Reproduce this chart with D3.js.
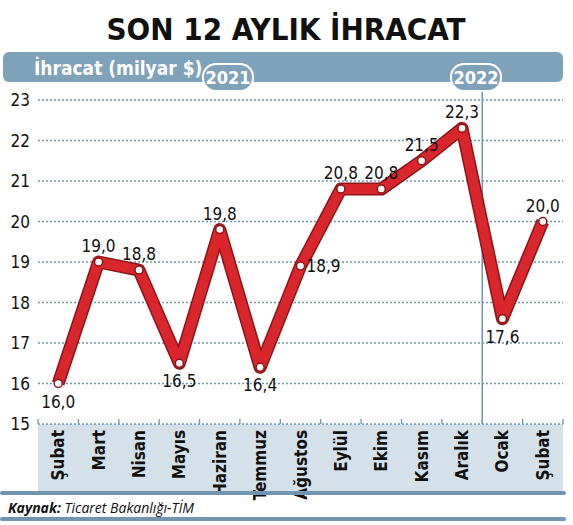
<!DOCTYPE html>
<html lang="tr">
<head>
<meta charset="UTF-8">
<script src="https://d3js.org/d3.v7.min.js"></script>
<style>
  body { margin: 0; background: #fff; }
  svg { display: block; }
  .cond { font-family: "Liberation Sans Narrow", "DejaVu Sans Condensed", sans-serif; }
</style>
</head>
<body>
<svg width="573" height="525"></svg>
<script>
  // chart data
  const months = ["Şubat", "Mart", "Nisan", "Mayıs", "Haziran", "Temmuz", "Ağustos", "Eylül", "Ekim", "Kasım", "Aralık", "Ocak", "Şubat"];
  const values = [16.0, 19.0, 18.8, 16.5, 19.8, 16.4, 18.9, 20.8, 20.8, 21.5, 22.3, 17.6, 20.0];
  const labelAbove = [false, true, true, false, true, false, false, true, true, true, true, false, true];
  const yTicks = [15, 16, 17, 18, 19, 20, 21, 22, 23];

  const svg = d3.select("svg");
  const plotLeft = 38, plotRight = 563, plotTop = 100, plotBottom = 424;

  const x = d3.scaleBand().domain(d3.range(months.length)).range([plotLeft, plotRight]);
  const y = d3.scaleLinear().domain([15, 23]).range([plotBottom, plotTop]);
  const cx = i => x(i) + x.bandwidth() / 2;

  // title
  svg.append("text").attr("class", "cond").attr("x", 286).attr("y", 40)
    .attr("text-anchor", "middle").attr("font-size", 31).attr("font-weight", "bold")
    .attr("fill", "#111").text("SON 12 AYLIK İHRACAT");

  // header bar
  svg.append("rect").attr("x", 3).attr("y", 52).attr("width", 560).attr("height", 30)
    .attr("rx", 6).attr("fill", "#7fa2bb");
  svg.append("text").attr("class", "cond").attr("x", 34).attr("y", 75)
    .attr("font-size", 19).attr("font-weight", "bold").attr("fill", "#fff").text("İhracat (milyar $)");
  [["2021", 228], ["2022", 476]].forEach(([t, px]) => {
    svg.append("rect").attr("x", px - 25).attr("y", 64).attr("width", 50).attr("height", 27)
      .attr("rx", 13).attr("fill", "#7fa2bb").attr("stroke", "#fff").attr("stroke-width", 2);
    svg.append("text").attr("class", "cond").attr("x", px).attr("y", 84)
      .attr("text-anchor", "middle").attr("font-size", 18).attr("font-weight", "bold")
      .attr("fill", "#fff").text(t);
  });

  // category band
  svg.append("rect").attr("x", plotLeft).attr("y", plotBottom).attr("width", plotRight - plotLeft)
    .attr("height", 492 - plotBottom).attr("fill", "#d4e1eb");

  // gridlines
  svg.append("g").selectAll("line").data(yTicks).join("line")
    .attr("x1", plotLeft).attr("x2", plotRight)
    .attr("y1", d => y(d)).attr("y2", d => y(d))
    .attr("stroke", "#6f95b3").attr("stroke-width", 1.3).attr("stroke-dasharray", "2,2");

  // y axis labels
  svg.append("g").selectAll("text").data(yTicks).join("text")
    .attr("class", "cond").attr("x", 30).attr("y", d => y(d) + 6)
    .attr("text-anchor", "end").attr("font-size", 17).attr("fill", "#111").text(d => d);

  // x ticks at band edges
  svg.append("g").selectAll("line").data(d3.range(months.length + 1)).join("line")
    .attr("x1", i => plotLeft + i * x.step()).attr("x2", i => plotLeft + i * x.step())
    .attr("y1", plotBottom - 5).attr("y2", plotBottom)
    .attr("stroke", "#6f95b3").attr("stroke-width", 1.3);

  // year divider
  const divX = plotLeft + 11 * x.step();
  svg.append("line").attr("x1", divX).attr("x2", divX).attr("y1", 92).attr("y2", plotBottom)
    .attr("stroke", "#6f95b3").attr("stroke-width", 1.5);

  // month labels
  svg.append("g").selectAll("text").data(months).join("text")
    .attr("class", "cond").attr("font-size", 17).attr("font-weight", "bold").attr("fill", "#111")
    .attr("text-anchor", "end")
    .attr("transform", (d, i) => `translate(${cx(i) + 6},${plotBottom + 6}) rotate(-90)`)
    .text(d => d);

  // line
  const line = d3.line().x((d, i) => cx(i)).y(d => y(d));
  svg.append("path").datum(values).attr("d", line).attr("fill", "none")
    .attr("stroke", "#8e1418").attr("stroke-width", 13).attr("stroke-linejoin", "round");
  svg.append("path").datum(values).attr("d", line).attr("fill", "none")
    .attr("stroke", "#d9262a").attr("stroke-width", 10).attr("stroke-linejoin", "round");

  svg.append("g").selectAll("circle").data(values).join("circle")
    .attr("cx", (d, i) => cx(i)).attr("cy", d => y(d)).attr("r", 4)
    .attr("fill", "#fff").attr("stroke", "#8e1418").attr("stroke-width", 1.5);

  // value labels
  svg.append("g").selectAll("text").data(values).join("text")
    .attr("class", "cond").attr("font-size", 17).attr("fill", "#111")
    .attr("text-anchor", (d, i) => i === 6 ? "start" : "middle")
    .attr("x", (d, i) => i === 6 ? cx(i) + 6 : cx(i))
    .attr("y", (d, i) => labelAbove[i] ? y(d) - 10 : (i === 6 ? y(d) + 6 : y(d) + 24))
    .text(d => d.toFixed(1).replace(".", ","));

  // footer
  svg.append("rect").attr("x", 0).attr("y", 491).attr("width", 566).attr("height", 4).attr("rx", 2).attr("fill", "#6f95b3");
  svg.append("text").attr("x", 8).attr("y", 513).attr("font-family", "Open Sans, sans-serif")
    .attr("font-size", 14).attr("font-style", "italic").attr("fill", "#111")
    .html('<tspan font-weight="bold">Kaynak:</tspan> Ticaret Bakanlığı-TİM');
  svg.append("rect").attr("x", 0).attr("y", 517).attr("width", 566).attr("height", 4).attr("rx", 2).attr("fill", "#6f95b3");
</script>
</body>
</html>
